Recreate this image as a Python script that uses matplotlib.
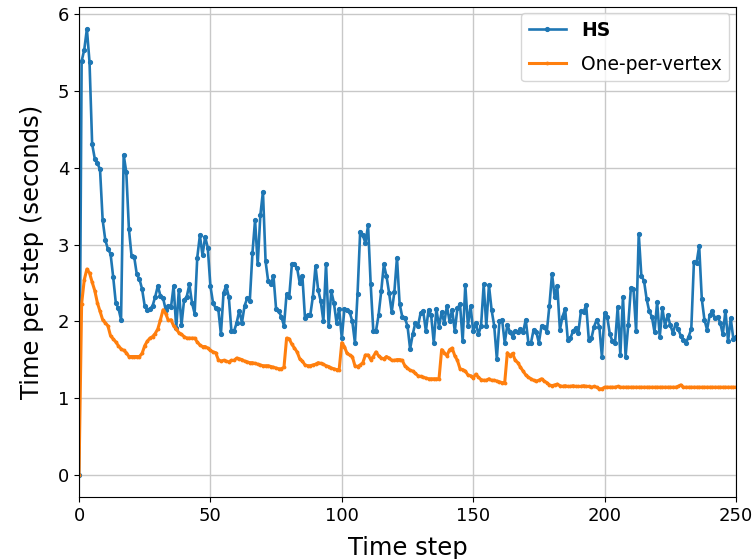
import numpy as np
import matplotlib
matplotlib.use("Agg")
from matplotlib import pyplot as plt

# time per step for the HS run, one value per time step (0..250)
hs_times = [
    0.00, 5.39, 5.54, 5.81, 5.38, 4.31, 4.12, 4.06, 3.98, 3.32,
    3.06, 2.94, 2.88, 2.58, 2.24, 2.17, 2.02, 4.17, 3.94, 3.20,
    2.85, 2.84, 2.61, 2.55, 2.42, 2.20, 2.15, 2.16, 2.20, 2.32,
    2.46, 2.33, 2.30, 2.15, 2.20, 2.18, 2.46, 1.91, 2.41, 1.95,
    2.28, 2.32, 2.48, 2.24, 2.10, 2.83, 3.12, 2.86, 3.10, 2.96,
    2.46, 2.24, 2.17, 2.16, 1.83, 2.37, 2.46, 2.32, 1.87, 1.87,
    1.98, 2.14, 1.98, 2.20, 2.30, 2.27, 2.89, 3.32, 2.74, 3.38,
    3.69, 2.78, 2.52, 2.48, 2.59, 2.16, 2.13, 2.06, 1.94, 2.36,
    2.32, 2.74, 2.74, 2.69, 2.50, 2.59, 2.04, 2.08, 2.08, 2.32,
    2.72, 2.41, 2.26, 2.00, 2.75, 1.94, 2.39, 2.24, 1.98, 2.16,
    1.78, 2.16, 2.15, 2.12, 2.00, 1.72, 2.36, 3.17, 3.12, 3.02,
    3.25, 2.48, 1.87, 1.87, 2.08, 2.39, 2.74, 2.59, 2.37, 2.12,
    2.38, 2.83, 2.23, 2.06, 2.04, 1.94, 1.64, 1.83, 1.98, 1.94,
    2.11, 2.13, 1.87, 2.15, 2.08, 1.72, 2.16, 1.93, 2.12, 1.98,
    2.20, 2.00, 2.15, 1.87, 2.17, 2.22, 1.74, 2.47, 1.94, 2.20,
    1.87, 1.98, 1.83, 1.94, 2.48, 1.94, 2.47, 2.15, 1.94, 1.51,
    2.00, 2.02, 1.72, 1.95, 1.86, 1.80, 1.87, 1.86, 1.90, 1.86,
    2.02, 1.72, 1.72, 1.89, 1.86, 1.72, 1.94, 1.93, 1.86, 2.20,
    2.62, 2.32, 2.46, 1.89, 2.06, 2.16, 1.76, 1.78, 1.87, 1.91,
    1.85, 2.13, 2.12, 2.21, 1.76, 1.78, 1.93, 2.02, 1.93, 1.53,
    2.11, 2.06, 1.83, 1.74, 1.72, 2.19, 1.56, 2.32, 1.54, 1.95,
    2.43, 2.42, 1.87, 3.14, 2.59, 2.53, 2.29, 2.13, 2.06, 1.86,
    2.25, 1.80, 2.17, 1.94, 2.08, 1.95, 1.85, 1.96, 1.90, 1.81,
    1.76, 1.72, 1.80, 1.90, 2.77, 2.76, 2.98, 2.29, 2.02, 1.89,
    2.08, 2.13, 2.04, 2.06, 1.98, 1.83, 2.14, 1.74, 2.04, 1.77,
    1.80,
]

# time per step with one thread per vertex
opv_times = [
    0.00, 2.23, 2.54, 2.68, 2.63, 2.51, 2.40, 2.24, 2.13, 2.02,
    1.98, 1.94, 1.81, 1.77, 1.73, 1.68, 1.64, 1.62, 1.59, 1.54,
    1.54, 1.54, 1.54, 1.54, 1.58, 1.68, 1.74, 1.78, 1.80, 1.84,
    1.90, 2.02, 2.15, 2.10, 2.01, 2.02, 1.94, 1.90, 1.85, 1.83,
    1.80, 1.78, 1.78, 1.78, 1.78, 1.73, 1.69, 1.67, 1.67, 1.65,
    1.62, 1.60, 1.59, 1.50, 1.48, 1.49, 1.48, 1.47, 1.49, 1.49,
    1.52, 1.51, 1.50, 1.48, 1.47, 1.46, 1.46, 1.45, 1.44, 1.43,
    1.42, 1.42, 1.42, 1.41, 1.40, 1.39, 1.38, 1.38, 1.40, 1.78,
    1.77, 1.70, 1.65, 1.60, 1.51, 1.48, 1.43, 1.42, 1.42, 1.43,
    1.44, 1.46, 1.45, 1.44, 1.42, 1.41, 1.39, 1.38, 1.37, 1.37,
    1.72, 1.67, 1.58, 1.56, 1.54, 1.42, 1.41, 1.43, 1.46, 1.56,
    1.56, 1.50, 1.54, 1.60, 1.55, 1.52, 1.51, 1.54, 1.52, 1.49,
    1.49, 1.50, 1.50, 1.49, 1.42, 1.39, 1.36, 1.35, 1.32, 1.29,
    1.28, 1.27, 1.26, 1.25, 1.25, 1.25, 1.25, 1.25, 1.63, 1.59,
    1.55, 1.63, 1.65, 1.55, 1.49, 1.38, 1.37, 1.35, 1.30, 1.29,
    1.26, 1.31, 1.27, 1.24, 1.23, 1.23, 1.25, 1.23, 1.23, 1.22,
    1.21, 1.20, 1.20, 1.59, 1.55, 1.58, 1.49, 1.46, 1.40, 1.35,
    1.30, 1.27, 1.25, 1.23, 1.22, 1.23, 1.25, 1.22, 1.20, 1.17,
    1.16, 1.17, 1.18, 1.16, 1.15, 1.16, 1.15, 1.15, 1.16, 1.15,
    1.15, 1.15, 1.16, 1.15, 1.15, 1.14, 1.15, 1.14, 1.12, 1.12,
    1.14, 1.14, 1.14, 1.14, 1.14, 1.15, 1.14, 1.14, 1.14, 1.14,
    1.14, 1.14, 1.14, 1.14, 1.14, 1.14, 1.14, 1.14, 1.14, 1.14,
    1.14, 1.14, 1.14, 1.14, 1.14, 1.14, 1.14, 1.14, 1.15, 1.17,
    1.14, 1.14, 1.14, 1.14, 1.14, 1.14, 1.14, 1.14, 1.14, 1.14,
    1.14, 1.14, 1.14, 1.14, 1.14, 1.14, 1.14, 1.14, 1.14, 1.14,
    1.14,
]

series_names = ["HS", "One-per-vertex"]
x_ticks = [0, 50, 100, 150, 200, 250]

fig = plt.figure(figsize=(7.56, 5.59), dpi=100)
ax = fig.add_axes([0.1045, 0.111, 0.869, 0.877])

ax.plot(np.arange(len(hs_times)), hs_times, color="#1f77b4", lw=1.9,
        marker=".", ms=5.5, label=series_names[0])
ax.plot(np.arange(len(opv_times)), opv_times, color="#ff7f0e", lw=2.2,
        marker=".", ms=3.5, label=series_names[1])

ax.set_xlim(0, 250)
ax.set_xticks(x_ticks)
ax.grid(True, color="#c8c8c8", lw=1.0)
ax.tick_params(labelsize=13)
ax.set_xlabel("Time step", fontsize=17.5, labelpad=8)
ax.set_ylabel("Time per step (seconds)", fontsize=17.5, labelpad=10)

leg = ax.legend(loc="upper right", fontsize=13.5, labelspacing=0.8,
                borderaxespad=0.35)
leg.get_texts()[0].set_fontweight("bold")

fig.savefig("out.png", dpi=100)
